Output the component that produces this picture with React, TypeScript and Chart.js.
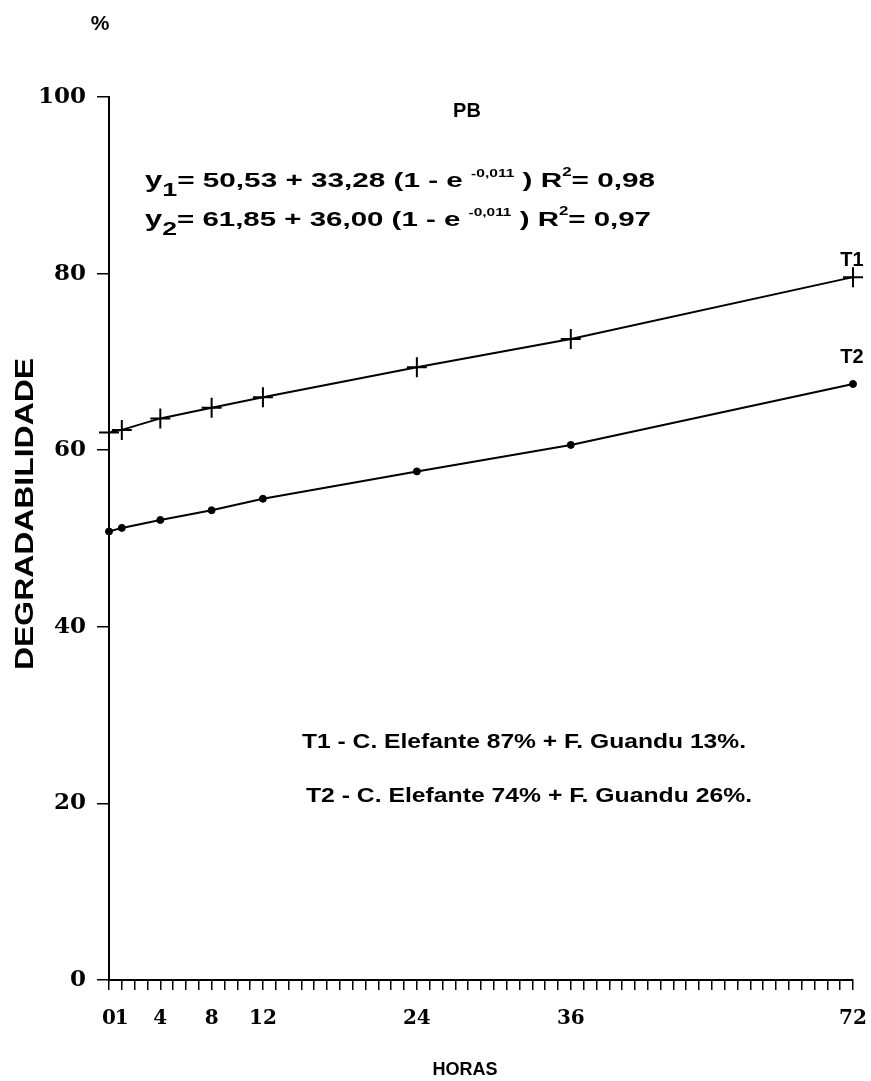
import React, { useEffect, useRef } from 'react';
import { Chart, registerables } from 'chart.js';

Chart.register(...registerables);

// ---- data ----
const hours = [0, 1, 4, 8, 12, 24, 36, 72];
const t1Values = [62.0, 62.3, 63.6, 64.8, 66.0, 69.4, 72.6, 79.6];
const t2Values = [50.8, 51.2, 52.1, 53.2, 54.5, 57.6, 60.6, 67.5];
const yTickValues = [0, 20, 40, 60, 80, 100];
const xTickHours = [0, 1, 4, 8, 12, 24, 36, 72];
const seriesNames = ['T1', 'T2'];
const legendLines = [
  'T1 - C. Elefante 87% + F. Guandu 13%.',
  'T2 - C. Elefante 74% + F. Guandu 26%.',
];
const chartTitle = 'PB';
const yAxisTitle = 'DEGRADABILIDADE';
const xAxisTitle = 'HORAS';
const unitLabel = '%';

// broken time axis: after 36 h the scale is compressed
const BREAK_H = 36;
const LAST_H = 72;
const AXIS_MAX = 58;
const pos = (h: number) =>
  h <= BREAK_H ? h : BREAK_H + ((h - BREAK_H) * (AXIS_MAX - BREAK_H)) / (LAST_H - BREAK_H);

const SANS = '"Liberation Sans", Arial, sans-serif';
const SERIF = '"DejaVu Serif", serif';

function fitText(ctx: CanvasRenderingContext2D, text: string, x: number, y: number, width: number, size: number) {
  ctx.save();
  ctx.font = `bold ${size}px ${SANS}`;
  const w = ctx.measureText(text).width;
  ctx.translate(x, y);
  ctx.scale(width / w, 1);
  ctx.textAlign = 'left';
  ctx.textBaseline = 'alphabetic';
  ctx.fillStyle = '#000';
  ctx.fillText(text, 0, 0);
  ctx.restore();
}

type Piece = [string, number, number];
function drawEq(ctx: CanvasRenderingContext2D, x: number, y: number, width: number, pieces: Piece[]) {
  ctx.save();
  let total = 0;
  for (const [t, s] of pieces) {
    ctx.font = `bold ${s}px ${SANS}`;
    total += ctx.measureText(t).width;
  }
  ctx.translate(x, y);
  ctx.scale(width / total, 1);
  ctx.fillStyle = '#000';
  ctx.textBaseline = 'alphabetic';
  ctx.textAlign = 'left';
  let cx = 0;
  for (const [t, s, dy] of pieces) {
    ctx.font = `bold ${s}px ${SANS}`;
    ctx.fillText(t, cx, dy);
    cx += ctx.measureText(t).width;
  }
  ctx.restore();
}

const annotations = {
  id: 'annotations',
  afterDraw(chart: any) {
    const ctx: CanvasRenderingContext2D = chart.ctx;
    ctx.save();
    ctx.fillStyle = '#000';
    // unit
    ctx.font = `bold 21px ${SANS}`;
    ctx.textAlign = 'center';
    ctx.fillText(unitLabel, 100, 30);
    // title
    ctx.font = `bold 20px ${SANS}`;
    ctx.fillText(chartTitle, 467, 117);
    // x axis title
    ctx.font = `bold 18px ${SANS}`;
    ctx.fillText(xAxisTitle, 465, 1075);
    // equations
    drawEq(ctx, 145, 187, 510, [
      ['y', 22, 0], ['1', 19, 9], ['= 50,53 + 33,28 (1 - e ', 21, 0], ['-0,011', 11, -10],
      [' ) R', 21, 0], ['2', 12, -11], ['= 0,98', 21, 0],
    ]);
    drawEq(ctx, 145, 226, 506, [
      ['y', 22, 0], ['2', 19, 9], ['= 61,85 + 36,00 (1 - e ', 21, 0], ['-0,011', 11, -10],
      [' ) R', 21, 0], ['2', 12, -11], ['= 0,97', 21, 0],
    ]);
    // series labels
    ctx.font = `bold 20px ${SANS}`;
    ctx.textAlign = 'center';
    ctx.fillText(seriesNames[0], 852, 266);
    ctx.fillText(seriesNames[1], 852, 363);
    // legend text
    fitText(ctx, legendLines[0], 302, 748, 444, 21);
    fitText(ctx, legendLines[1], 306, 802, 446, 21);
    // y title
    ctx.save();
    ctx.font = `bold 25px ${SANS}`;
    const w = ctx.measureText(yAxisTitle).width;
    ctx.translate(24, 514);
    ctx.rotate(-Math.PI / 2);
    ctx.scale(312 / w, 1);
    ctx.textAlign = 'center';
    ctx.textBaseline = 'alphabetic';
    ctx.fillText(yAxisTitle, 0, 9);
    ctx.restore();
    ctx.restore();
  },
};

export default function App() {
  const ref = useRef<HTMLCanvasElement | null>(null);

  useEffect(() => {
    document.body.style.margin = '0';
    const canvas = ref.current;
    if (!canvas) return;
    const labelMap = new Map<number, string>();
    xTickHours.forEach((h) => labelMap.set(pos(h), String(h)));

    const chart = new Chart(canvas, {
      type: 'line',
      data: {
        datasets: [
          {
            label: seriesNames[0],
            data: hours.map((h, i) => ({ x: pos(h), y: t1Values[i] })),
            borderColor: '#000',
            backgroundColor: '#000',
            borderWidth: 2,
            pointStyle: 'cross',
            pointRadius: 10,
            pointBorderWidth: 2,
            pointBorderColor: '#000',
            tension: 0,
            clip: false as any,
          },
          {
            label: seriesNames[1],
            data: hours.map((h, i) => ({ x: pos(h), y: t2Values[i] })),
            borderColor: '#000',
            backgroundColor: '#000',
            borderWidth: 2,
            pointStyle: 'circle',
            pointRadius: 3.5,
            pointBorderWidth: 1,
            pointBackgroundColor: '#000',
            pointBorderColor: '#000',
            tension: 0,
            clip: false as any,
          },
        ],
      },
      options: {
        responsive: false,
        animation: false,
        devicePixelRatio: 1,
        layout: { padding: { top: 97, right: 18, bottom: 0, left: 0 } },
        plugins: { legend: { display: false }, tooltip: { enabled: false } },
        scales: {
          x: {
            type: 'linear',
            min: 0,
            max: AXIS_MAX,
            afterFit: (s: any) => {
              s.height = 101;
              s.paddingLeft = 0;
              s.paddingRight = 0;
            },
            afterBuildTicks: (s: any) => {
              const t = [];
              for (let v = 0; v <= AXIS_MAX; v++) t.push({ value: v });
              s.ticks = t;
            },
            ticks: {
              autoSkip: false,
              maxRotation: 0,
              minRotation: 0,
              padding: 17,
              color: '#000',
              font: { family: SERIF, weight: 'bold', size: 20 },
              callback: (v: any) => labelMap.get(Number(v)) ?? '',
            },
            grid: { display: true, drawOnChartArea: false, drawTicks: true, tickLength: 10, color: '#000', lineWidth: 1.5 },
            border: { display: true, color: '#000', width: 2 },
          },
          y: {
            type: 'linear',
            min: 0,
            max: 100,
            afterFit: (s: any) => {
              s.width = 109;
              s.paddingTop = 0;
              s.paddingBottom = 0;
            },
            afterBuildTicks: (s: any) => { s.ticks = yTickValues.map((v) => ({ value: v })); },
            ticks: {
              padding: 11,
              color: '#000',
              font: { family: SERIF, weight: 'bold', size: 23 },
            },
            grid: { display: true, drawOnChartArea: false, drawTicks: true, tickLength: 12, color: '#000', lineWidth: 1.5 },
            border: { display: true, color: '#000', width: 2 },
          },
        },
      },
      plugins: [annotations],
    } as any);
    return () => chart.destroy();
  }, []);

  return (
    <div style={{ width: 871, height: 1081, background: '#fff' }}>
      <canvas ref={ref} width={871} height={1081} style={{ display: 'block' }} />
    </div>
  );
}
